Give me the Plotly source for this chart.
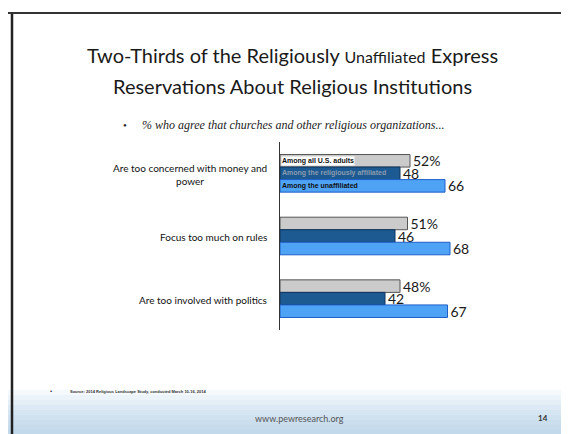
import plotly.graph_objects as go

# data
statements = ["Are too concerned with money and<br>power", "Focus too much on rules", "Are too involved with politics"]
groups = ["Among all U.S. adults", "Among the religiously affiliated", "Among the unaffiliated"]
all_adults = [52, 51, 48]
affiliated = [48, 46, 42]
unaffiliated = [66, 68, 67]
value_text = [["52%", "51%", "48%"], ["48", "46", "42"], ["66", "68", "67"]]

colors = ["#cbcbcb", "#1c5a91", "#4ea3f5"]
borders = ["#555555", "#0e3560", "#1f5fc8"]
legend_font = ["#111111", "#8a9bb0", "#111111"]

W, H = 569, 434
L, R, T, B = 272, 47, 134, 112

def px(x):
    # page pixel -> paper x
    return (x - L) / (W - L - R)

def py(y):
    # page pixel -> paper y
    return (H - B - y) / (H - T - B)

fig = go.Figure()
for i, (name, vals) in enumerate(zip(groups, [all_adults, affiliated, unaffiliated])):
    fig.add_trace(go.Bar(
        y=list(range(len(statements))), x=vals, orientation='h', name=name,
        marker={'color': colors[i], 'line': {'color': borders[i], 'width': 1}},
        text=value_text[i], textposition='outside', constraintext='none',
        textfont={'family': 'Lato, sans-serif', 'size': 14, 'color': '#1a1a1a'},
        cliponaxis=False,
    ))

# group names written inside the first group of bars
for i, name in enumerate(groups):
    fig.add_annotation(x=0, y=(i - 1) * 0.2, xref='x', yref='y', text='<b>' + name + '</b>',
                       xanchor='left', yanchor='middle', showarrow=False, xshift=1,
                       font={'family': 'Liberation Sans, Arial', 'size': 7, 'color': legend_font[i]},
                       bgcolor='white' if i == 0 else None, borderpad=0)

# statement labels left of the axis
for j, s in enumerate(statements):
    fig.add_annotation(x=0, y=j, xref='x', yref='y', text=s, xanchor='right', yanchor='middle',
                       align='center', showarrow=False, xshift=-11, yshift=-1,
                       font={'family': 'Lato, sans-serif', 'size': 10, 'color': '#111'})

fig.update_layout(
    width=W, height=H, barmode='group', bargap=0.4, bargroupgap=0,
    showlegend=False, plot_bgcolor='white', paper_bgcolor='white',
    margin={'l': L, 'r': R, 't': T, 'b': B},
    xaxis={'range': [0, 100], 'visible': False},
    yaxis={'range': [2.5, -0.5], 'showticklabels': False, 'showgrid': False, 'zeroline': False,
           'showline': True, 'linecolor': '#333', 'linewidth': 1, 'ticks': ''},
)

# bottom band of the slide
for k in range(10):
    fig.add_shape(type='rect', xref='paper', yref='paper', x0=px(0), x1=px(W),
                  y0=py(432), y1=py(432 - (k + 1) * 5), line={'width': 0},
                  fillcolor='rgba(160,200,232,0.11)', layer='below')

# slide frame
fig.add_shape(type='line', xref='paper', yref='paper', x0=px(4), x1=px(4), y0=py(433), y1=py(4),
              line={'color': '#222', 'width': 2.5})
fig.add_shape(type='line', xref='paper', yref='paper', x0=px(0), x1=px(562), y0=py(5), y1=py(5),
              line={'color': '#333', 'width': 2})
fig.add_shape(type='line', xref='paper', yref='paper', x0=px(0), x1=px(W), y0=py(432), y1=py(432),
              line={'color': '#333', 'width': 2})
fig.add_shape(type='line', xref='paper', yref='paper', x0=px(565), x1=px(565), y0=py(432), y1=py(8),
              line={'color': '#dddddd', 'width': 1})

# slide text
fig.add_annotation(xref='paper', yref='paper', x=px(284), y=py(47), xanchor='center', yanchor='middle',
                   showarrow=False,
                   text="Two-Thirds of the Religiously <span style='font-size:16px'>Unaffiliated</span> Express",
                   font={'family': 'Lato, sans-serif', 'size': 20, 'color': '#1a1a1a'})
fig.add_annotation(xref='paper', yref='paper', x=px(284), y=py(78), xanchor='center', yanchor='middle',
                   showarrow=False, text="Reservations About Religious Institutions",
                   font={'family': 'Lato, sans-serif', 'size': 20, 'color': '#1a1a1a'})
fig.add_annotation(xref='paper', yref='paper', x=px(113), y=py(117), xanchor='left', yanchor='middle',
                   showarrow=False, text="•", font={'family': 'Liberation Serif, serif', 'size': 11, 'color': '#222'})
fig.add_annotation(xref='paper', yref='paper', x=px(132), y=py(117), xanchor='left', yanchor='middle',
                   showarrow=False, text="<i>% who agree that churches and other religious organizations...</i>",
                   font={'family': 'Liberation Serif, serif', 'size': 12, 'color': '#222'})
fig.add_annotation(xref='paper', yref='paper', x=px(40), y=py(383), xanchor='left', yanchor='middle',
                   showarrow=False, text="•", font={'family': 'Liberation Sans, Arial', 'size': 6, 'color': '#333'})
fig.add_annotation(xref='paper', yref='paper', x=px(60), y=py(383), xanchor='left', yanchor='middle',
                   showarrow=False, text="<b>Source: 2014 Religious Landscape Study, conducted March 10-16, 2014</b>",
                   font={'family': 'Liberation Sans, Arial', 'size': 4, 'color': '#333'})
fig.add_annotation(xref='paper', yref='paper', x=px(291), y=py(410), xanchor='center', yanchor='middle',
                   showarrow=False, text="www.pewresearch.org",
                   font={'family': 'Lato, sans-serif', 'size': 9, 'color': '#555'})
fig.add_annotation(xref='paper', yref='paper', x=px(535), y=py(410), xanchor='center', yanchor='middle',
                   showarrow=False, text="<b>14</b>",
                   font={'family': 'Lato, sans-serif', 'size': 8, 'color': '#333'})

fig.write_html("out.html")
